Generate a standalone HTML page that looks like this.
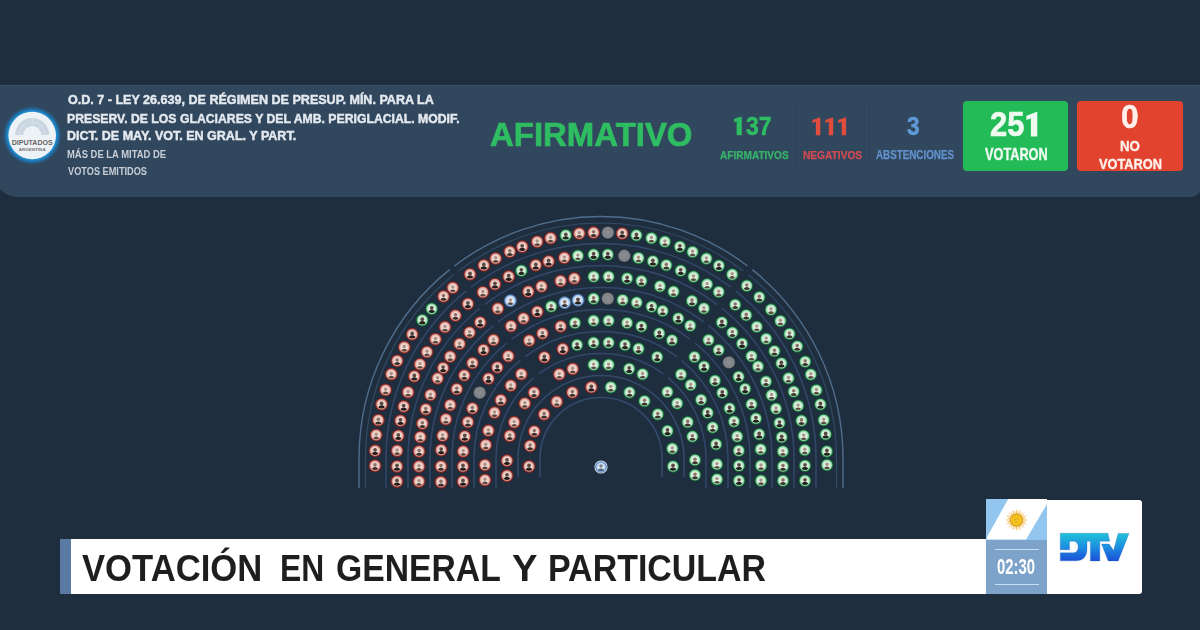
<!DOCTYPE html>
<html><head><meta charset="utf-8"><style>
html,body{margin:0;padding:0;}
body{width:1200px;height:630px;overflow:hidden;position:relative;background:#1f2e3f;font-family:"Liberation Sans",sans-serif;}
.abs{position:absolute;}
.t{position:absolute;white-space:pre;font-weight:700;transform-origin:0 0;}
</style></head><body>
<div class="abs" style="left:-6px;top:85px;width:1207px;height:112px;background:#31475e;border-radius:0 0 10px 24px;"></div>
<div class="abs" style="left:0;top:85px;width:1200px;height:1px;background:#3b526a;"></div>
<div class="abs" style="left:795px;top:104px;width:1px;height:61px;background:#2d4259;"></div>
<div class="abs" style="left:869px;top:104px;width:1px;height:61px;background:#2d4259;"></div>
<svg class="abs" style="left:0;top:103px" width="66" height="66" viewBox="0 0 66 66">
<defs><radialGradient id="glow" cx="50%" cy="50%" r="50%"><stop offset="0.76" stop-color="#2aa6e6" stop-opacity="1"/><stop offset="0.86" stop-color="#1a86cc" stop-opacity="0.85"/><stop offset="1" stop-color="#1a6fb0" stop-opacity="0"/></radialGradient></defs>
<circle cx="32.2" cy="32.5" r="29.5" fill="url(#glow)"/>
<circle cx="32.2" cy="32.5" r="23.8" fill="#edf2f6"/>
<path d="M15.2,32 A17,17 0 0 1 49.2,32 L41.2,32 A9,9 0 0 0 23.2,32 Z" fill="#c9d5e0"/>
<g fill="none" stroke="#dfe7ee" stroke-width="0.7"><path d="M19.2,32 A13,13 0 0 1 45.2,32"/><path d="M32.2,15 V23 M20.2,20 L25.8,25.6 M44.2,20 L38.6,25.6"/></g>
<text x="32.2" y="42.2" text-anchor="middle" font-family="Liberation Sans" font-weight="700" font-size="7.6" fill="#676462" textLength="41" lengthAdjust="spacingAndGlyphs">DIPUTADOS</text>
<text x="32.2" y="47.6" text-anchor="middle" font-family="Liberation Sans" font-weight="700" font-size="3.8" fill="#7a7674" textLength="27" lengthAdjust="spacingAndGlyphs">ARGENTINA</text>
</svg>
<div class="t" style="left:67.5px;top:93.37px;font-size:13.33px;line-height:13.33px;transform:scaleX(0.942);color:#e4e9ef;-webkit-text-stroke:0.45px #e4e9ef;">O.D. 7 - LEY 26.639, DE RÉGIMEN DE PRESUP. MÍN. PARA LA</div>
<div class="t" style="left:67.14px;top:112.21px;font-size:13.04px;line-height:13.04px;transform:scaleX(0.939);color:#e4e9ef;-webkit-text-stroke:0.45px #e4e9ef;">PRESERV. DE LOS GLACIARES Y DEL AMB. PERIGLACIAL. MODIF.</div>
<div class="t" style="left:67.12px;top:130.16px;font-size:12.75px;line-height:12.75px;transform:scaleX(0.982);color:#e4e9ef;-webkit-text-stroke:0.45px #e4e9ef;">DICT. DE MAY. VOT. EN GRAL. Y PART.</div>
<div class="t" style="left:67.34px;top:149.21px;font-size:10.58px;line-height:10.58px;transform:scaleX(0.892);color:#c9ced6;">MÁS DE LA MITAD DE</div>
<div class="t" style="left:67.91px;top:166.21px;font-size:11.16px;line-height:11.16px;transform:scaleX(0.824);color:#c9ced6;">VOTOS EMITIDOS</div>
<div class="t" style="left:489.51px;top:118.81px;font-size:32.46px;line-height:32.46px;transform:scaleX(1.015);color:#2fbd62;-webkit-text-stroke:0.7px #2fbd62;">AFIRMATIVO</div>
<div class="t" style="left:745.74px;top:112.83px;font-size:26.09px;line-height:26.09px;transform:scaleX(0.883);color:#2fbd62;-webkit-text-stroke:0.5px #2fbd62;">37</div><svg class="abs" style="left:0;top:0" width="1200" height="200"><path d="M741.6,116.9 V134.9 H736.9 V121.1 L734.3,122.2 V118.9 L740.9,116.9 Z" fill="#2fbd62" stroke="#2fbd62" stroke-width="0.5"/></svg>
<div class="t" style="left:719.7px;top:149.94px;font-size:11.59px;line-height:11.59px;transform:scaleX(0.87);color:#36b46a;-webkit-text-stroke:0.25px #36b46a;">AFIRMATIVOS</div>
<svg class="abs" style="left:0;top:0" width="1200" height="200"><path d="M820.3,117.5 V135.3 H815.9 V121.8 L812.4,123.1 V120.1 L819.5,117.5 Z M833.2,117.5 V135.3 H828.8 V121.8 L825.3,123.1 V120.1 L832.4,117.5 Z M846.1,117.5 V135.3 H841.7 V121.8 L838.2,123.1 V120.1 L845.3,117.5 Z " fill="#e04d3d"/></svg>
<div class="t" style="left:803.29px;top:149.94px;font-size:11.59px;line-height:11.59px;transform:scaleX(0.878);color:#d44a50;-webkit-text-stroke:0.25px #d44a50;">NEGATIVOS</div>
<div class="t" style="left:906.55px;top:113.54px;font-size:25.36px;line-height:25.36px;transform:scaleX(0.891);color:#5f9ad6;-webkit-text-stroke:0.5px #5f9ad6;">3</div>
<div class="t" style="left:876.41px;top:148.61px;font-size:12.46px;line-height:12.46px;transform:scaleX(0.788);color:#6292cc;-webkit-text-stroke:0.25px #6292cc;">ABSTENCIONES</div>
<div class="abs" style="left:963px;top:100.5px;width:105px;height:70.5px;background:#22bb58;border-radius:4px;"></div>
<div class="abs" style="left:1077px;top:100.5px;width:106px;height:70.5px;background:#e2432f;border-radius:4px;"></div>
<div class="t" style="left:989.67px;top:106.44px;font-size:35.36px;line-height:35.36px;transform:scaleX(0.875);color:#eefaf0;-webkit-text-stroke:0.6px #eefaf0;">25</div><svg class="abs" style="left:0;top:0" width="1200" height="200"><path d="M1037.3,112.1 V136.5 H1030.9 V118.6 L1026.4,120.1 V115.7 L1036.3,112.1 Z" fill="#eefaf0"/></svg>
<div class="t" style="left:984.87px;top:147.2px;font-size:15.65px;line-height:15.65px;transform:scaleX(0.814);color:#eefaf0;-webkit-text-stroke:0.4px #eefaf0;">VOTARON</div>
<div class="t" style="left:1121.33px;top:99.79px;font-size:33.19px;line-height:33.19px;transform:scaleX(0.955);color:#fff0ec;-webkit-text-stroke:0.5px #fff0ec;">0</div>
<div class="t" style="left:1120.07px;top:139.26px;font-size:14.64px;line-height:14.64px;transform:scaleX(0.909);color:#fff0ec;-webkit-text-stroke:0.4px #fff0ec;">NO</div>
<div class="t" style="left:1098.87px;top:157.46px;font-size:14.64px;line-height:14.64px;transform:scaleX(0.873);color:#fff0ec;-webkit-text-stroke:0.4px #fff0ec;">VOTARON</div>
<svg class="abs" style="left:0;top:0" width="1200" height="630" viewBox="0 0 1200 630"><defs>
<radialGradient id="gR" cx="50%" cy="50%" r="50%"><stop offset="0" stop-color="#f4e6e2"/><stop offset="0.52" stop-color="#edd2cc"/><stop offset="0.7" stop-color="#dea49c"/><stop offset="0.84" stop-color="#c0625a"/><stop offset="0.94" stop-color="#8a2c28"/><stop offset="1" stop-color="#5e1c1c"/></radialGradient>
<radialGradient id="gG" cx="50%" cy="50%" r="50%"><stop offset="0" stop-color="#eef8f0"/><stop offset="0.52" stop-color="#d6efdc"/><stop offset="0.7" stop-color="#9ad8ae"/><stop offset="0.84" stop-color="#52b27a"/><stop offset="0.94" stop-color="#1b7042"/><stop offset="1" stop-color="#0d3f25"/></radialGradient>
<radialGradient id="gB" cx="50%" cy="50%" r="50%"><stop offset="0" stop-color="#f1f5fb"/><stop offset="0.52" stop-color="#dce8f7"/><stop offset="0.72" stop-color="#abc8ee"/><stop offset="0.86" stop-color="#7aa3da"/><stop offset="0.94" stop-color="#52789f"/><stop offset="1" stop-color="#35557e"/></radialGradient>
<radialGradient id="gX" cx="50%" cy="50%" r="50%"><stop offset="0" stop-color="#8c8d90"/><stop offset="0.85" stop-color="#808286"/><stop offset="1" stop-color="#5d6168"/></radialGradient>
<clipPath id="cp"><circle r="4.3"/></clipPath>
<g id="f0"><g clip-path="url(#cp)"><circle cx="0" cy="-0.8" r="1.8" fill="#7a5a4c" opacity="0.85"/><path d="M-3.6,6 C-3.4,2.4 -2,1.3 0,1.3 C2,1.3 3.4,2.4 3.6,6 Z" fill="#2c211c" opacity="0.92"/></g></g>
<g id="f1"><g clip-path="url(#cp)"><circle cx="0" cy="-0.9" r="1.9" fill="#4a372f" opacity="0.9"/><path d="M-3.9,6 C-3.6,2 -2,1 0,1 C2,1 3.6,2 3.9,6 Z" fill="#1b1512" opacity="0.95"/></g></g>
<g id="f2"><g clip-path="url(#cp)"><circle cx="0" cy="-0.7" r="1.7" fill="#9a7a68" opacity="0.8"/><path d="M-3.3,6 C-3.1,2.6 -1.8,1.6 0,1.6 C1.8,1.6 3.1,2.6 3.3,6 Z" fill="#4a372c" opacity="0.9"/></g></g>
<g id="sR"><circle r="6.5" fill="url(#gR)"/><circle r="6.0" fill="none" stroke="#6e2222" stroke-width="0.9" opacity="0.8"/></g>
<g id="sG"><circle r="6.5" fill="url(#gG)"/><circle r="6.0" fill="none" stroke="#0f4a2b" stroke-width="0.9" opacity="0.8"/></g>
<g id="sB"><circle r="6.5" fill="url(#gB)"/><circle r="6.0" fill="none" stroke="#3d5f8c" stroke-width="0.9" opacity="0.8"/></g>
<g id="sX"><circle r="6.2" fill="url(#gX)"/></g>
<filter id="soft" x="-5%" y="-5%" width="110%" height="110%"><feGaussianBlur stdDeviation="0.35"/></filter>
</defs><g filter="url(#soft)"><path d="M359.00,458.50 A242,242 0 0 1 449.66,269.66 M454.39,265.97 A242,242 0 0 1 747.61,265.97 M752.34,269.66 A242,242 0 0 1 843.00,458.50 M359,458.5 L359,488 M843,458.5 L843,488" fill="none" stroke="#4f6d8b" stroke-width="1.4"/><path d="M365.50,458.50 A235.5,235.5 0 0 1 453.66,274.79 M458.39,271.09 A235.5,235.5 0 0 1 743.61,271.09 M748.34,274.79 A235.5,235.5 0 0 1 836.50,458.50 M365.5,458.5 L365.5,488 M836.5,458.5 L836.5,488" fill="none" stroke="#2f4962" stroke-width="1.2"/><path d="M386.00,458.50 A215,215 0 0 1 466.28,290.94 M471.01,287.25 A215,215 0 0 1 730.99,287.25 M735.72,290.94 A215,215 0 0 1 816.00,458.50 M386,458.5 L386,488 M816,458.5 L816,488" fill="none" stroke="#32476a" stroke-width="1.5"/><path d="M408.00,458.50 A193,193 0 0 1 479.83,308.28 M484.56,304.59 A193,193 0 0 1 717.44,304.59 M722.17,308.28 A193,193 0 0 1 794.00,458.50 M408,458.5 L408,488 M794,458.5 L794,488" fill="none" stroke="#32476a" stroke-width="1.5"/><path d="M430.00,458.50 A171,171 0 0 1 493.37,325.62 M498.10,321.92 A171,171 0 0 1 703.90,321.92 M708.63,325.62 A171,171 0 0 1 772.00,458.50 M430,458.5 L430,488 M772,458.5 L772,488" fill="none" stroke="#32476a" stroke-width="1.5"/><path d="M452.00,458.50 A149,149 0 0 1 506.92,342.96 M511.65,339.26 A149,149 0 0 1 690.35,339.26 M695.08,342.96 A149,149 0 0 1 750.00,458.50 M452,458.5 L452,488 M750,458.5 L750,488" fill="none" stroke="#32476a" stroke-width="1.5"/><path d="M474.00,458.50 A127,127 0 0 1 520.47,360.30 M525.20,356.60 A127,127 0 0 1 676.80,356.60 M681.53,360.30 A127,127 0 0 1 728.00,458.50 M474,458.5 L474,488 M728,458.5 L728,488" fill="none" stroke="#32476a" stroke-width="1.5"/><path d="M496.00,458.50 A105,105 0 0 1 534.02,377.64 M538.75,373.95 A105,105 0 0 1 663.25,373.95 M667.98,377.64 A105,105 0 0 1 706.00,458.50 M496,458.5 L496,488 M706,458.5 L706,488" fill="none" stroke="#32476a" stroke-width="1.5"/><path d="M518.00,458.50 A83,83 0 0 1 684.00,458.50 M518,458.5 L518,477 M684,458.5 L684,477" fill="none" stroke="#344a6c" stroke-width="1.5"/><path d="M540.00,458.50 A61,61 0 0 1 662.00,458.50 M540,458.5 L540,477 M662,458.5 L662,477" fill="none" stroke="#344a6c" stroke-width="1.5"/><use href="#sR" x="443.5" y="296.4"/><use href="#f0" x="443.5" y="296.4"/><use href="#sR" x="452.8" y="287.8"/><use href="#f2" x="452.8" y="287.8"/><use href="#sR" x="470.0" y="274.3"/><use href="#f1" x="470.0" y="274.3"/><use href="#sR" x="483.8" y="265.3"/><use href="#f1" x="483.8" y="265.3"/><use href="#sR" x="495.7" y="258.5"/><use href="#f2" x="495.7" y="258.5"/><use href="#sR" x="509.8" y="251.7"/><use href="#f0" x="509.8" y="251.7"/><use href="#sR" x="522.2" y="246.7"/><use href="#f1" x="522.2" y="246.7"/><use href="#sR" x="537.2" y="241.7"/><use href="#f2" x="537.2" y="241.7"/><use href="#sR" x="550.6" y="238.2"/><use href="#f2" x="550.6" y="238.2"/><use href="#sG" x="565.8" y="235.3"/><use href="#f1" x="565.8" y="235.3"/><use href="#sR" x="579.3" y="233.5"/><use href="#f2" x="579.3" y="233.5"/><use href="#sR" x="593.6" y="232.6"/><use href="#f0" x="593.6" y="232.6"/><use href="#sR" x="467.9" y="303.9"/><use href="#f1" x="467.9" y="303.9"/><use href="#sR" x="482.9" y="292.2"/><use href="#f2" x="482.9" y="292.2"/><use href="#sR" x="495.0" y="284.2"/><use href="#f1" x="495.0" y="284.2"/><use href="#sR" x="508.7" y="276.6"/><use href="#f1" x="508.7" y="276.6"/><use href="#sG" x="521.4" y="270.7"/><use href="#f1" x="521.4" y="270.7"/><use href="#sR" x="535.8" y="265.2"/><use href="#f1" x="535.8" y="265.2"/><use href="#sR" x="548.6" y="261.4"/><use href="#f1" x="548.6" y="261.4"/><use href="#sR" x="564.3" y="257.8"/><use href="#f2" x="564.3" y="257.8"/><use href="#sG" x="577.9" y="255.8"/><use href="#f2" x="577.9" y="255.8"/><use href="#sG" x="593.6" y="254.6"/><use href="#f1" x="593.6" y="254.6"/><use href="#sB" x="510.4" y="300.7"/><use href="#f2" x="510.4" y="300.7"/><use href="#sR" x="528.3" y="291.6"/><use href="#f1" x="528.3" y="291.6"/><use href="#sR" x="541.5" y="286.5"/><use href="#f2" x="541.5" y="286.5"/><use href="#sR" x="560.6" y="281.0"/><use href="#f2" x="560.6" y="281.0"/><use href="#sR" x="574.3" y="278.5"/><use href="#f2" x="574.3" y="278.5"/><use href="#sG" x="593.6" y="276.7"/><use href="#f2" x="593.6" y="276.7"/><use href="#sG" x="551.2" y="306.5"/><use href="#f0" x="551.2" y="306.5"/><use href="#sB" x="564.7" y="302.7"/><use href="#f0" x="564.7" y="302.7"/><use href="#sB" x="578.0" y="300.2"/><use href="#f1" x="578.0" y="300.2"/><use href="#sG" x="593.6" y="298.7"/><use href="#f0" x="593.6" y="298.7"/><use href="#sG" x="657.8" y="414.3"/><use href="#f0" x="657.8" y="414.3"/><use href="#sG" x="667.5" y="430.9"/><use href="#f1" x="667.5" y="430.9"/><use href="#sG" x="672.3" y="448.6"/><use href="#f2" x="672.3" y="448.6"/><use href="#sG" x="673.0" y="466.4"/><use href="#f1" x="673.0" y="466.4"/><use href="#sG" x="677.2" y="403.5"/><use href="#f2" x="677.2" y="403.5"/><use href="#sG" x="687.7" y="422.2"/><use href="#f0" x="687.7" y="422.2"/><use href="#sG" x="692.4" y="436.5"/><use href="#f0" x="692.4" y="436.5"/><use href="#sG" x="695.0" y="460.0"/><use href="#f0" x="695.0" y="460.0"/><use href="#sG" x="695.0" y="475.0"/><use href="#f0" x="695.0" y="475.0"/><use href="#sG" x="716.1" y="444.3"/><use href="#f1" x="716.1" y="444.3"/><use href="#sG" x="717.0" y="464.3"/><use href="#f2" x="717.0" y="464.3"/><use href="#sG" x="717.0" y="479.3"/><use href="#f2" x="717.0" y="479.3"/><use href="#sG" x="737.2" y="436.5"/><use href="#f2" x="737.2" y="436.5"/><use href="#sG" x="738.8" y="450.7"/><use href="#f0" x="738.8" y="450.7"/><use href="#sG" x="739.0" y="465.7"/><use href="#f1" x="739.0" y="465.7"/><use href="#sG" x="739.0" y="480.7"/><use href="#f1" x="739.0" y="480.7"/><use href="#sG" x="759.2" y="434.3"/><use href="#f1" x="759.2" y="434.3"/><use href="#sG" x="760.7" y="449.3"/><use href="#f2" x="760.7" y="449.3"/><use href="#sG" x="761.0" y="465.7"/><use href="#f2" x="761.0" y="465.7"/><use href="#sG" x="761.0" y="480.7"/><use href="#f2" x="761.0" y="480.7"/><use href="#sG" x="781.7" y="437.2"/><use href="#f1" x="781.7" y="437.2"/><use href="#sG" x="782.9" y="451.4"/><use href="#f2" x="782.9" y="451.4"/><use href="#sG" x="783.0" y="466.4"/><use href="#f0" x="783.0" y="466.4"/><use href="#sG" x="783.0" y="480.7"/><use href="#f0" x="783.0" y="480.7"/><use href="#sG" x="803.7" y="435.8"/><use href="#f2" x="803.7" y="435.8"/><use href="#sG" x="804.8" y="450.0"/><use href="#f2" x="804.8" y="450.0"/><use href="#sG" x="805.0" y="465.7"/><use href="#f1" x="805.0" y="465.7"/><use href="#sG" x="805.0" y="480.7"/><use href="#f1" x="805.0" y="480.7"/><use href="#sG" x="825.7" y="434.3"/><use href="#f1" x="825.7" y="434.3"/><use href="#sG" x="826.9" y="451.4"/><use href="#f1" x="826.9" y="451.4"/><use href="#sG" x="827.0" y="465.0"/><use href="#f2" x="827.0" y="465.0"/><use href="#sG" x="681.0" y="374.5"/><use href="#f2" x="681.0" y="374.5"/><use href="#sG" x="667.4" y="392.0"/><use href="#f2" x="667.4" y="392.0"/><use href="#sR" x="529.0" y="466.4"/><use href="#f1" x="529.0" y="466.4"/><use href="#sX" x="607.9" y="232.6"/><use href="#sR" x="622.2" y="233.5"/><use href="#f1" x="622.2" y="233.5"/><use href="#sG" x="636.4" y="235.3"/><use href="#f1" x="636.4" y="235.3"/><use href="#sG" x="651.4" y="238.2"/><use href="#f2" x="651.4" y="238.2"/><use href="#sG" x="664.9" y="241.7"/><use href="#f2" x="664.9" y="241.7"/><use href="#sG" x="679.9" y="246.7"/><use href="#f1" x="679.9" y="246.7"/><use href="#sG" x="692.6" y="251.9"/><use href="#f2" x="692.6" y="251.9"/><use href="#sG" x="706.4" y="258.6"/><use href="#f2" x="706.4" y="258.6"/><use href="#sG" x="718.9" y="265.7"/><use href="#f1" x="718.9" y="265.7"/><use href="#sG" x="732.2" y="274.5"/><use href="#f2" x="732.2" y="274.5"/><use href="#sG" x="746.8" y="285.8"/><use href="#f0" x="746.8" y="285.8"/><use href="#sG" x="607.8" y="254.6"/><use href="#f1" x="607.8" y="254.6"/><use href="#sX" x="624.3" y="255.8"/><use href="#sG" x="638.5" y="258.0"/><use href="#f2" x="638.5" y="258.0"/><use href="#sG" x="652.9" y="261.2"/><use href="#f1" x="652.9" y="261.2"/><use href="#sG" x="666.3" y="265.2"/><use href="#f0" x="666.3" y="265.2"/><use href="#sG" x="680.7" y="270.7"/><use href="#f1" x="680.7" y="270.7"/><use href="#sG" x="693.5" y="276.7"/><use href="#f2" x="693.5" y="276.7"/><use href="#sG" x="707.1" y="284.3"/><use href="#f2" x="707.1" y="284.3"/><use href="#sG" x="718.7" y="291.9"/><use href="#f2" x="718.7" y="291.9"/><use href="#sG" x="608.6" y="276.7"/><use href="#f2" x="608.6" y="276.7"/><use href="#sG" x="627.1" y="278.4"/><use href="#f1" x="627.1" y="278.4"/><use href="#sG" x="641.4" y="281.0"/><use href="#f0" x="641.4" y="281.0"/><use href="#sG" x="660.0" y="286.3"/><use href="#f2" x="660.0" y="286.3"/><use href="#sG" x="673.5" y="291.6"/><use href="#f2" x="673.5" y="291.6"/><use href="#sG" x="692.0" y="300.9"/><use href="#f0" x="692.0" y="300.9"/><use href="#sX" x="607.8" y="298.6"/><use href="#sG" x="622.7" y="300.0"/><use href="#f2" x="622.7" y="300.0"/><use href="#sG" x="636.7" y="302.5"/><use href="#f2" x="636.7" y="302.5"/><use href="#sG" x="431.7" y="308.8"/><use href="#f1" x="431.7" y="308.8"/><use href="#sG" x="422.3" y="320.1"/><use href="#f1" x="422.3" y="320.1"/><use href="#sR" x="412.2" y="334.3"/><use href="#f1" x="412.2" y="334.3"/><use href="#sR" x="404.3" y="347.2"/><use href="#f2" x="404.3" y="347.2"/><use href="#sR" x="397.2" y="360.8"/><use href="#f0" x="397.2" y="360.8"/><use href="#sR" x="391.3" y="374.2"/><use href="#f2" x="391.3" y="374.2"/><use href="#sR" x="455.5" y="315.5"/><use href="#f0" x="455.5" y="315.5"/><use href="#sR" x="445.0" y="327.1"/><use href="#f2" x="445.0" y="327.1"/><use href="#sR" x="435.5" y="339.2"/><use href="#f2" x="435.5" y="339.2"/><use href="#sR" x="427.0" y="352.0"/><use href="#f2" x="427.0" y="352.0"/><use href="#sR" x="420.0" y="364.3"/><use href="#f2" x="420.0" y="364.3"/><use href="#sR" x="414.3" y="376.3"/><use href="#f1" x="414.3" y="376.3"/><use href="#sR" x="497.8" y="308.6"/><use href="#f2" x="497.8" y="308.6"/><use href="#sR" x="480.2" y="322.4"/><use href="#f1" x="480.2" y="322.4"/><use href="#sR" x="469.6" y="332.5"/><use href="#f2" x="469.6" y="332.5"/><use href="#sR" x="459.6" y="343.9"/><use href="#f2" x="459.6" y="343.9"/><use href="#sR" x="450.2" y="356.6"/><use href="#f2" x="450.2" y="356.6"/><use href="#sR" x="443.1" y="368.0"/><use href="#f1" x="443.1" y="368.0"/><use href="#sR" x="437.6" y="378.4"/><use href="#f2" x="437.6" y="378.4"/><use href="#sR" x="511.0" y="326.2"/><use href="#f2" x="511.0" y="326.2"/><use href="#sR" x="493.5" y="340.0"/><use href="#f2" x="493.5" y="340.0"/><use href="#sR" x="483.5" y="349.9"/><use href="#f1" x="483.5" y="349.9"/><use href="#sR" x="472.5" y="363.1"/><use href="#f0" x="472.5" y="363.1"/><use href="#sR" x="464.3" y="375.4"/><use href="#f0" x="464.3" y="375.4"/><use href="#sR" x="508.3" y="356.2"/><use href="#f2" x="508.3" y="356.2"/><use href="#sR" x="497.3" y="367.4"/><use href="#f1" x="497.3" y="367.4"/><use href="#sR" x="488.5" y="378.6"/><use href="#f1" x="488.5" y="378.6"/><use href="#sR" x="385.6" y="390.0"/><use href="#f2" x="385.6" y="390.0"/><use href="#sR" x="381.6" y="404.3"/><use href="#f1" x="381.6" y="404.3"/><use href="#sR" x="378.3" y="420.1"/><use href="#f0" x="378.3" y="420.1"/><use href="#sR" x="376.2" y="435.0"/><use href="#f2" x="376.2" y="435.0"/><use href="#sR" x="375.1" y="450.7"/><use href="#f1" x="375.1" y="450.7"/><use href="#sR" x="408.1" y="392.2"/><use href="#f2" x="408.1" y="392.2"/><use href="#sR" x="403.7" y="406.5"/><use href="#f1" x="403.7" y="406.5"/><use href="#sR" x="400.5" y="420.7"/><use href="#f1" x="400.5" y="420.7"/><use href="#sR" x="398.3" y="435.8"/><use href="#f1" x="398.3" y="435.8"/><use href="#sR" x="397.1" y="450.7"/><use href="#f2" x="397.1" y="450.7"/><use href="#sR" x="430.5" y="394.9"/><use href="#f2" x="430.5" y="394.9"/><use href="#sR" x="425.8" y="409.3"/><use href="#f0" x="425.8" y="409.3"/><use href="#sR" x="422.4" y="423.6"/><use href="#f0" x="422.4" y="423.6"/><use href="#sR" x="420.3" y="437.1"/><use href="#f2" x="420.3" y="437.1"/><use href="#sR" x="419.1" y="451.4"/><use href="#f0" x="419.1" y="451.4"/><use href="#sR" x="456.8" y="389.1"/><use href="#f0" x="456.8" y="389.1"/><use href="#sR" x="450.2" y="405.1"/><use href="#f2" x="450.2" y="405.1"/><use href="#sR" x="445.9" y="419.2"/><use href="#f2" x="445.9" y="419.2"/><use href="#sR" x="442.6" y="435.7"/><use href="#f2" x="442.6" y="435.7"/><use href="#sR" x="441.2" y="450.0"/><use href="#f1" x="441.2" y="450.0"/><use href="#sX" x="479.7" y="392.7"/><use href="#sR" x="472.4" y="408.4"/><use href="#f0" x="472.4" y="408.4"/><use href="#sR" x="467.9" y="422.1"/><use href="#f0" x="467.9" y="422.1"/><use href="#sR" x="464.8" y="436.4"/><use href="#f1" x="464.8" y="436.4"/><use href="#sR" x="463.2" y="451.4"/><use href="#f2" x="463.2" y="451.4"/><use href="#sR" x="510.8" y="385.6"/><use href="#f2" x="510.8" y="385.6"/><use href="#sR" x="500.8" y="400.1"/><use href="#f0" x="500.8" y="400.1"/><use href="#sR" x="494.5" y="412.6"/><use href="#f2" x="494.5" y="412.6"/><use href="#sR" x="488.4" y="430.7"/><use href="#f2" x="488.4" y="430.7"/><use href="#sR" x="485.8" y="445.0"/><use href="#f2" x="485.8" y="445.0"/><use href="#sR" x="514.2" y="422.3"/><use href="#f2" x="514.2" y="422.3"/><use href="#sR" x="509.8" y="435.8"/><use href="#f0" x="509.8" y="435.8"/><use href="#sR" x="375.0" y="465.7"/><use href="#f0" x="375.0" y="465.7"/><use href="#sR" x="397.0" y="466.4"/><use href="#f1" x="397.0" y="466.4"/><use href="#sR" x="397.0" y="481.4"/><use href="#f1" x="397.0" y="481.4"/><use href="#sR" x="419.0" y="466.4"/><use href="#f2" x="419.0" y="466.4"/><use href="#sR" x="419.0" y="481.4"/><use href="#f2" x="419.0" y="481.4"/><use href="#sR" x="441.0" y="466.4"/><use href="#f0" x="441.0" y="466.4"/><use href="#sR" x="441.0" y="482.1"/><use href="#f0" x="441.0" y="482.1"/><use href="#sR" x="463.0" y="466.4"/><use href="#f1" x="463.0" y="466.4"/><use href="#sR" x="463.0" y="481.4"/><use href="#f1" x="463.0" y="481.4"/><use href="#sR" x="485.0" y="465.0"/><use href="#f2" x="485.0" y="465.0"/><use href="#sR" x="485.0" y="480.0"/><use href="#f2" x="485.0" y="480.0"/><use href="#sR" x="507.0" y="460.7"/><use href="#f1" x="507.0" y="460.7"/><use href="#sR" x="507.0" y="475.7"/><use href="#f1" x="507.0" y="475.7"/><use href="#sG" x="651.6" y="306.7"/><use href="#f1" x="651.6" y="306.7"/><use href="#sG" x="662.7" y="310.9"/><use href="#f0" x="662.7" y="310.9"/><use href="#sR" x="537.3" y="311.7"/><use href="#f1" x="537.3" y="311.7"/><use href="#sR" x="523.5" y="318.5"/><use href="#f2" x="523.5" y="318.5"/><use href="#sR" x="560.7" y="326.5"/><use href="#f0" x="560.7" y="326.5"/><use href="#sG" x="575.0" y="323.0"/><use href="#f0" x="575.0" y="323.0"/><use href="#sG" x="593.6" y="320.7"/><use href="#f2" x="593.6" y="320.7"/><use href="#sG" x="608.6" y="320.7"/><use href="#f2" x="608.6" y="320.7"/><use href="#sG" x="627.1" y="323.0"/><use href="#f2" x="627.1" y="323.0"/><use href="#sG" x="641.4" y="326.5"/><use href="#f1" x="641.4" y="326.5"/><use href="#sG" x="659.3" y="333.4"/><use href="#f1" x="659.3" y="333.4"/><use href="#sR" x="542.5" y="333.5"/><use href="#f0" x="542.5" y="333.5"/><use href="#sR" x="529.2" y="340.6"/><use href="#f2" x="529.2" y="340.6"/><use href="#sR" x="562.8" y="349.0"/><use href="#f1" x="562.8" y="349.0"/><use href="#sG" x="577.1" y="345.0"/><use href="#f1" x="577.1" y="345.0"/><use href="#sG" x="593.6" y="342.7"/><use href="#f0" x="593.6" y="342.7"/><use href="#sG" x="608.6" y="342.7"/><use href="#f0" x="608.6" y="342.7"/><use href="#sG" x="625.0" y="345.0"/><use href="#f1" x="625.0" y="345.0"/><use href="#sG" x="638.5" y="348.7"/><use href="#f0" x="638.5" y="348.7"/><use href="#sG" x="657.2" y="357.0"/><use href="#f1" x="657.2" y="357.0"/><use href="#sR" x="544.4" y="357.3"/><use href="#f1" x="544.4" y="357.3"/><use href="#sR" x="572.7" y="368.9"/><use href="#f2" x="572.7" y="368.9"/><use href="#sR" x="559.3" y="374.3"/><use href="#f2" x="559.3" y="374.3"/><use href="#sG" x="593.6" y="364.8"/><use href="#f2" x="593.6" y="364.8"/><use href="#sG" x="608.6" y="364.8"/><use href="#f2" x="608.6" y="364.8"/><use href="#sG" x="629.2" y="368.8"/><use href="#f1" x="629.2" y="368.8"/><use href="#sG" x="642.6" y="374.2"/><use href="#f2" x="642.6" y="374.2"/><use href="#sR" x="521.3" y="374.2"/><use href="#f2" x="521.3" y="374.2"/><use href="#sR" x="534.0" y="392.6"/><use href="#f0" x="534.0" y="392.6"/><use href="#sR" x="524.8" y="403.4"/><use href="#f2" x="524.8" y="403.4"/><use href="#sR" x="591.3" y="387.2"/><use href="#f1" x="591.3" y="387.2"/><use href="#sG" x="610.8" y="387.2"/><use href="#f2" x="610.8" y="387.2"/><use href="#sG" x="629.5" y="392.4"/><use href="#f0" x="629.5" y="392.4"/><use href="#sG" x="644.5" y="401.1"/><use href="#f0" x="644.5" y="401.1"/><use href="#sR" x="572.4" y="392.4"/><use href="#f0" x="572.4" y="392.4"/><use href="#sR" x="556.8" y="401.7"/><use href="#f2" x="556.8" y="401.7"/><use href="#sR" x="544.1" y="414.3"/><use href="#f0" x="544.1" y="414.3"/><use href="#sR" x="534.3" y="431.4"/><use href="#f0" x="534.3" y="431.4"/><use href="#sR" x="530.1" y="445.9"/><use href="#f0" x="530.1" y="445.9"/><use href="#sG" x="759.3" y="297.2"/><use href="#f0" x="759.3" y="297.2"/><use href="#sG" x="771.0" y="309.6"/><use href="#f2" x="771.0" y="309.6"/><use href="#sG" x="780.4" y="321.0"/><use href="#f2" x="780.4" y="321.0"/><use href="#sG" x="789.5" y="333.9"/><use href="#f0" x="789.5" y="333.9"/><use href="#sG" x="797.2" y="346.4"/><use href="#f0" x="797.2" y="346.4"/><use href="#sG" x="703.9" y="308.4"/><use href="#f2" x="703.9" y="308.4"/><use href="#sG" x="735.2" y="304.8"/><use href="#f0" x="735.2" y="304.8"/><use href="#sG" x="746.2" y="315.2"/><use href="#f0" x="746.2" y="315.2"/><use href="#sG" x="756.8" y="326.8"/><use href="#f2" x="756.8" y="326.8"/><use href="#sG" x="766.2" y="338.8"/><use href="#f2" x="766.2" y="338.8"/><use href="#sG" x="774.4" y="351.1"/><use href="#f0" x="774.4" y="351.1"/><use href="#sG" x="781.4" y="363.3"/><use href="#f1" x="781.4" y="363.3"/><use href="#sG" x="678.3" y="318.4"/><use href="#f1" x="678.3" y="318.4"/><use href="#sG" x="690.2" y="325.7"/><use href="#f2" x="690.2" y="325.7"/><use href="#sG" x="721.9" y="322.4"/><use href="#f1" x="721.9" y="322.4"/><use href="#sG" x="732.4" y="332.6"/><use href="#f0" x="732.4" y="332.6"/><use href="#sG" x="742.1" y="343.6"/><use href="#f1" x="742.1" y="343.6"/><use href="#sG" x="751.5" y="356.2"/><use href="#f2" x="751.5" y="356.2"/><use href="#sG" x="758.0" y="366.5"/><use href="#f2" x="758.0" y="366.5"/><use href="#sG" x="672.0" y="340.2"/><use href="#f0" x="672.0" y="340.2"/><use href="#sG" x="708.5" y="340.0"/><use href="#f2" x="708.5" y="340.0"/><use href="#sG" x="718.6" y="350.0"/><use href="#f0" x="718.6" y="350.0"/><use href="#sX" x="728.9" y="362.4"/><use href="#sG" x="694.5" y="357.0"/><use href="#f0" x="694.5" y="357.0"/><use href="#sG" x="704.0" y="366.6"/><use href="#f1" x="704.0" y="366.6"/><use href="#sG" x="690.7" y="385.0"/><use href="#f2" x="690.7" y="385.0"/><use href="#sG" x="715.0" y="380.7"/><use href="#f0" x="715.0" y="380.7"/><use href="#sG" x="722.3" y="392.8"/><use href="#f1" x="722.3" y="392.8"/><use href="#sG" x="701.1" y="399.8"/><use href="#f0" x="701.1" y="399.8"/><use href="#sG" x="707.7" y="412.9"/><use href="#f1" x="707.7" y="412.9"/><use href="#sG" x="712.7" y="427.4"/><use href="#f0" x="712.7" y="427.4"/><use href="#sG" x="729.6" y="408.4"/><use href="#f1" x="729.6" y="408.4"/><use href="#sG" x="734.0" y="421.5"/><use href="#f0" x="734.0" y="421.5"/><use href="#sG" x="738.6" y="376.8"/><use href="#f1" x="738.6" y="376.8"/><use href="#sG" x="745.1" y="388.9"/><use href="#f1" x="745.1" y="388.9"/><use href="#sG" x="751.5" y="404.3"/><use href="#f0" x="751.5" y="404.3"/><use href="#sG" x="755.9" y="418.5"/><use href="#f1" x="755.9" y="418.5"/><use href="#sG" x="766.0" y="381.6"/><use href="#f0" x="766.0" y="381.6"/><use href="#sG" x="771.6" y="395.2"/><use href="#f2" x="771.6" y="395.2"/><use href="#sG" x="776.0" y="408.7"/><use href="#f2" x="776.0" y="408.7"/><use href="#sG" x="779.5" y="423.0"/><use href="#f1" x="779.5" y="423.0"/><use href="#sG" x="788.5" y="378.2"/><use href="#f2" x="788.5" y="378.2"/><use href="#sG" x="793.7" y="391.6"/><use href="#f0" x="793.7" y="391.6"/><use href="#sG" x="798.1" y="405.8"/><use href="#f2" x="798.1" y="405.8"/><use href="#sG" x="801.5" y="420.7"/><use href="#f0" x="801.5" y="420.7"/><use href="#sG" x="805.2" y="361.7"/><use href="#f0" x="805.2" y="361.7"/><use href="#sG" x="810.8" y="374.5"/><use href="#f2" x="810.8" y="374.5"/><use href="#sG" x="816.4" y="390.2"/><use href="#f2" x="816.4" y="390.2"/><use href="#sG" x="820.4" y="404.4"/><use href="#f1" x="820.4" y="404.4"/><use href="#sG" x="823.7" y="420.0"/><use href="#f2" x="823.7" y="420.0"/><g transform="translate(601,467)"><circle r="6.6" fill="#c9d8ee"/><circle r="5.6" fill="url(#gB)"/><circle cy="-1" r="1.8" fill="#7a7f8c"/><ellipse cy="4.2" rx="3.4" ry="2.6" fill="#51627e" clip-path="url(#cp)"/></g></g></svg>
<div class="abs" style="left:60px;top:539px;width:11px;height:55px;background:#5a7aa4;"></div>
<div class="abs" style="left:71px;top:539px;width:916px;height:55px;background:#ffffff;"></div>
<div class="t" style="left:82.44px;top:551.41px;font-size:36.81px;line-height:36.81px;transform:scaleX(0.9415);color:#1e1e1e;">VOTACIÓN</div><div class="t" style="left:279.55px;top:551.41px;font-size:36.81px;line-height:36.81px;transform:scaleX(0.8640000000000001);color:#1e1e1e;">EN</div><div class="t" style="left:335.71px;top:551.41px;font-size:36.81px;line-height:36.81px;transform:scaleX(0.916);color:#1e1e1e;">GENERAL</div><div class="t" style="left:512.2px;top:551.41px;font-size:36.81px;line-height:36.81px;transform:scaleX(1.0385);color:#1e1e1e;">Y</div><div class="t" style="left:548.45px;top:551.41px;font-size:36.81px;line-height:36.81px;transform:scaleX(0.9225000000000001);color:#1e1e1e;">PARTICULAR</div>
<div class="abs" style="left:986px;top:539.4px;width:61px;height:54.3px;background:#7ea3ca;"></div>
<div class="abs" style="left:995px;top:548.5px;width:44px;height:1.6px;background:#c5e0f6;"></div>
<div class="abs" style="left:995px;top:583.5px;width:44px;height:1.6px;background:#c5e0f6;"></div>
<div class="t" style="left:997.4px;top:555.72px;font-size:21.74px;line-height:21.74px;transform:scaleX(0.686);color:#ffffff;">02:30</div>
<svg class="abs" style="left:986px;top:499px" width="61" height="41" viewBox="986 499 61 41">
<rect x="986" y="499" width="61" height="41" fill="#92c6ee"/>
<polygon points="1008.2,499 1047,499 1047,504 1026,539.6 987,539.6 987,537" fill="#ffffff"/>
<g transform="translate(1016.5,520)">
<path d="M6.00,0.00 L10.50,0.00 M5.88,1.17 L8.83,1.76 M5.54,2.30 L9.70,4.02 M4.99,3.33 L7.48,5.00 M4.24,4.24 L7.42,7.42 M3.33,4.99 L5.00,7.48 M2.30,5.54 L4.02,9.70 M1.17,5.88 L1.76,8.83 M0.00,6.00 L0.00,10.50 M-1.17,5.88 L-1.76,8.83 M-2.30,5.54 L-4.02,9.70 M-3.33,4.99 L-5.00,7.48 M-4.24,4.24 L-7.42,7.42 M-4.99,3.33 L-7.48,5.00 M-5.54,2.30 L-9.70,4.02 M-5.88,1.17 L-8.83,1.76 M-6.00,0.00 L-10.50,0.00 M-5.88,-1.17 L-8.83,-1.76 M-5.54,-2.30 L-9.70,-4.02 M-4.99,-3.33 L-7.48,-5.00 M-4.24,-4.24 L-7.42,-7.42 M-3.33,-4.99 L-5.00,-7.48 M-2.30,-5.54 L-4.02,-9.70 M-1.17,-5.88 L-1.76,-8.83 M-0.00,-6.00 L-0.00,-10.50 M1.17,-5.88 L1.76,-8.83 M2.30,-5.54 L4.02,-9.70 M3.33,-4.99 L5.00,-7.48 M4.24,-4.24 L7.42,-7.42 M4.99,-3.33 L7.48,-5.00 M5.54,-2.30 L9.70,-4.02 M5.88,-1.17 L8.83,-1.76 " stroke="#eda928" stroke-width="0.9" opacity="0.75"/>
<circle r="6.6" fill="#d99a12"/>
<circle r="5.6" fill="#f4c21e"/>
<circle cx="-1.6" cy="-0.8" r="0.7" fill="#d99a12"/><circle cx="1.6" cy="-0.8" r="0.7" fill="#d99a12"/><path d="M-1.5,2 Q0,3 1.5,2" stroke="#d99a12" stroke-width="0.6" fill="none"/>
</g>
</svg>
<div class="abs" style="left:1047px;top:499.7px;width:95px;height:94px;background:#ffffff;border-radius:0 3px 3px 0;"></div>
<svg class="abs" style="left:1055px;top:528px" width="80" height="38" viewBox="0 0 80 38">
<defs><linearGradient id="dg" x1="0" y1="5" x2="0" y2="33" gradientUnits="userSpaceOnUse"><stop offset="0" stop-color="#22c3d6"/><stop offset="0.5" stop-color="#1c8fe2"/><stop offset="1" stop-color="#1b4fd6"/></linearGradient></defs>
<g fill="url(#dg)" stroke="#1d5fb8" stroke-width="0.5" stroke-opacity="0.6">
<path d="M5.3,5.3 H52.9 L54.7,13.2 H44.8 V32.9 H35.4 V13.2 H32 V21 C32,28.5 28,32.8 21,32.8 H5.3 V24.8 H18.5 C21.5,24.8 23.2,22 23.2,19.1 C23.2,16 21.5,13.3 18.5,13.3 H14.5 V21.7 H5.3 Z"/>
<path d="M46.6,16 H54.1 L58.6,22.5 L63.2,5.4 H74 L63.2,32.9 H53.2 Z"/>
</g>
</svg>
</body></html>
